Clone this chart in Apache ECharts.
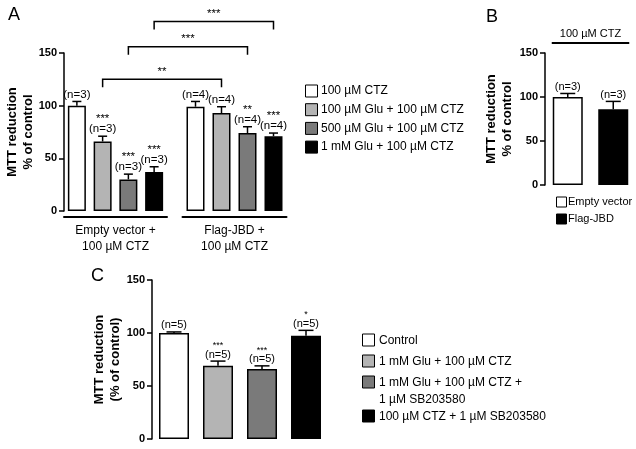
<!DOCTYPE html>
<html><head><meta charset="utf-8">
<script src="https://cdn.jsdelivr.net/npm/echarts@6/dist/echarts.min.js"></script>
<style>html,body{margin:0;padding:0;background:#fff}#c{width:636px;height:449px}</style>
</head><body><div id="c"></div>
<script>
const FONT = '"Liberation Sans", Arial, Helvetica, sans-serif';

// ---------- Panel A data ----------
const aConditions = ['100 \u00b5M CTZ', '100 \u00b5M Glu + 100 \u00b5M CTZ', '500 \u00b5M Glu + 100 \u00b5M CTZ', '1 mM Glu + 100 \u00b5M CTZ'];
const aGroups = ['Empty vector +\n100 \u00b5M CTZ', 'Flag-JBD +\n100 \u00b5M CTZ'];
const aEmptyMean = [100, 66, 30, 37];
const aEmptyErr = [4, 5, 5, 5];
const aEmptyN = ['(n=3)', '(n=3)', '(n=3)', '(n=3)'];
const aEmptySig = ['', '***', '***', '***'];
const aJbdMean = [99, 93, 74, 71];
const aJbdErr = [5, 6, 6, 3];
const aJbdN = ['(n=4)', '(n=4)', '(n=4)', '(n=4)'];
const aJbdSig = ['', '', '**', '***'];
const aBrackets = [
  { from: 1, to: 1, level: 125, sig: '**' },
  { from: 2, to: 2, level: 156, sig: '***' },
  { from: 3, to: 3, level: 180, sig: '***' }
];
const yTicks = [0, 50, 100, 150];

// ---------- Panel B data ----------
const bCategories = ['Empty vector', 'Flag-JBD'];
const bMean = [100, 86];
const bErr = [4, 9];
const bN = ['(n=3)', '(n=3)'];
const bTitle = '100 \u00b5M CTZ';

// ---------- Panel C data ----------
const cCategories = ['Control', '1 mM Glu + 100 \u00b5M CTZ', '1 mM Glu + 100 \u00b5M CTZ +\n1 \u00b5M SB203580', '100 \u00b5M CTZ + 1 \u00b5M SB203580'];
const cMean = [100, 69, 66, 97.5];
const cErr = [1, 4.5, 3, 5];
const cN = ['(n=5)', '(n=5)', '(n=5)', '(n=5)'];
const cSig = ['', '***', '***', '*'];

// ---------- styles ----------
const fillA = ['#ffffff', '#b4b4b4', '#7a7a7a', '#000000'];
const fillB = ['#ffffff', '#000000'];
const fillC = ['#ffffff', '#b4b4b4', '#7a7a7a', '#000000'];

const chart = echarts.init(document.getElementById('c'), null, { renderer: 'canvas' });

function yAxisDef(grid, show, name, gap) {
  return {
    type: 'value', gridIndex: grid, min: yTicks[0], max: yTicks[yTicks.length - 1], interval: 50,
    show: show,
    axisLine: { show: true, lineStyle: { color: '#000', width: 1.5 } },
    axisTick: { show: true, length: 5, lineStyle: { color: '#000', width: 1.5 } },
    axisLabel: { color: '#000', fontWeight: 'bold', fontSize: 11, fontFamily: FONT, margin: 7 },
    splitLine: { show: false },
    name: name, nameLocation: 'middle', nameRotate: 90, nameGap: gap, nameMoveOverlap: false,
    nameTextStyle: { color: '#000', fontWeight: 'bold', fontSize: 13, lineHeight: 16, fontFamily: FONT }
  };
}

function barSeries(grid, values, fills, width) {
  return {
    type: 'bar', xAxisIndex: grid, yAxisIndex: grid, barWidth: width, z: 2,
    data: values.map((v, i) => ({ value: v, itemStyle: { color: fills[i], borderColor: '#000', borderWidth: 1.5 } })),
    silent: true, animation: false
  };
}

function errSeries(grid, values, errs, nLabels, sigLabels, capW, nSize, sigSize, sigGap) {
  return {
    type: 'custom', xAxisIndex: grid, yAxisIndex: grid, z: 3, animation: false, silent: true,
    data: values.map((v, i) => [i, v, errs[i]]),
    renderItem: function (params, api) {
      const i = api.value(0), v = api.value(1), e = api.value(2);
      const base = api.coord([i, v]);
      const top = api.coord([i, v + e]);
      const idx = params.dataIndex;
      const ch = [
        { type: 'line', shape: { x1: base[0], y1: base[1], x2: top[0], y2: top[1] }, style: { stroke: '#000', lineWidth: 1.5 } },
        { type: 'line', shape: { x1: top[0] - capW / 2, y1: top[1], x2: top[0] + capW / 2, y2: top[1] }, style: { stroke: '#000', lineWidth: 1.5 } },
        { type: 'text', x: top[0], y: top[1] - 1, style: { text: nLabels[idx], fill: '#000', font: nSize + 'px ' + FONT, textAlign: 'center', textVerticalAlign: 'bottom' } }
      ];
      if (sigLabels && sigLabels[idx]) {
        ch.push({ type: 'text', x: top[0], y: top[1] - sigGap, style: { text: sigLabels[idx], fill: '#000', font: sigSize + 'px ' + FONT, textAlign: 'center', textVerticalAlign: 'bottom' } });
      }
      return { type: 'group', children: ch };
    }
  };
}

function catAxis(grid, n, name, showLine) {
  return {
    type: 'category', gridIndex: grid, data: Array.from({ length: n }, (_, i) => String(i)),
    axisLine: { show: showLine, onZero: false, lineStyle: { color: '#000', width: 2 } },
    offset: showLine ? 6 : 0,
    axisTick: { show: false }, axisLabel: { show: false },
    name: name, nameLocation: 'middle', nameGap: 6,
    nameTextStyle: { color: '#000', fontSize: 12, lineHeight: 16, fontFamily: FONT, verticalAlign: 'top' }
  };
}

const option = {
  animation: false,
  backgroundColor: '#fff',
  textStyle: { fontFamily: FONT },
  grid: [
    { left: 64, top: 53, width: 103, height: 158 },
    { left: 182.5, top: 53, width: 104, height: 158 },
    { left: 545, top: 53, width: 92, height: 132 },
    { left: 152, top: 280, width: 176, height: 159 }
  ],
  xAxis: [
    catAxis(0, aEmptyMean.length, aGroups[0], true),
    catAxis(1, aJbdMean.length, aGroups[1], true),
    catAxis(2, bMean.length, '', false),
    catAxis(3, cMean.length, '', false)
  ],
  yAxis: [
    yAxisDef(0, true, 'MTT reduction\n% of control', 28),
    yAxisDef(1, false, '', 0),
    yAxisDef(2, true, 'MTT reduction\n% of control', 30),
    yAxisDef(3, true, 'MTT reduction\n(% of control)', 29)
  ],
  series: [
    barSeries(0, aEmptyMean, fillA, 18),
    errSeries(0, aEmptyMean, aEmptyErr, aEmptyN, aEmptySig, 9, 11.5, 11.5, 11),
    barSeries(1, aJbdMean, fillA, 18),
    errSeries(1, aJbdMean, aJbdErr, aJbdN, aJbdSig, 9, 11.5, 11.5, 11),
    barSeries(2, bMean, fillB, 30),
    errSeries(2, bMean, bErr, bN, null, 15, 11, 11, 11),
    barSeries(3, cMean, fillC, 30),
    errSeries(3, cMean, cErr, cN, cSig, 15, 11, 9, 11)
  ]
};
chart.setOption(option);

// ---------- annotations (computed from the axes) ----------
const g = [];
function txt(x, y, s, size, opts) {
  g.push(Object.assign({ type: 'text', x: x, y: y, style: Object.assign({ text: s, fill: '#000', font: size + 'px ' + FONT, textAlign: 'left', textVerticalAlign: 'middle' }, (opts && opts.style) || {}) }, opts && opts.el || {}));
}
function ln(x1, y1, x2, y2, w) {
  g.push({ type: 'polyline', shape: { points: [[x1, y1], [x2, y2]] }, style: { stroke: '#000', lineWidth: w || 1.5, fill: null } });
}
function box(x, yc, w, h, color) {
  g.push({ type: 'rect', shape: { x: x, y: yc - h / 2, width: w, height: h }, style: { fill: color, stroke: '#000', lineWidth: 1 } });
}

// panel letters
txt(8, 15, 'A', 18);
txt(486, 17, 'B', 18);
txt(91, 276, 'C', 18);

// brackets in panel A
aBrackets.forEach(b => {
  const p1 = chart.convertToPixel({ xAxisIndex: 0, yAxisIndex: 0 }, [b.from, b.level]);
  const p2 = chart.convertToPixel({ xAxisIndex: 1, yAxisIndex: 1 }, [b.to, b.level]);
  g.push({ type: 'polyline', shape: { points: [[p1[0], p1[1] + 8], [p1[0], p1[1]], [p2[0], p2[1]], [p2[0], p2[1] + 8]] }, style: { stroke: '#000', lineWidth: 1.5, fill: null } });
  txt((p1[0] + p2[0]) / 2, p1[1] - 2, b.sig, 11.5, { style: { textAlign: 'center', textVerticalAlign: 'bottom' } });
});

// legend A
aConditions.forEach((s, i) => {
  const y = 91 + i * 18.7;
  box(305.5, y, 12, 12, fillA[i]);
  txt(321, y, s, 12);
});

// panel B top line + title
{
  const l = chart.convertToPixel({ xAxisIndex: 2, yAxisIndex: 2 }, [0, 0]);
  const r = chart.convertToPixel({ xAxisIndex: 2, yAxisIndex: 2 }, [bMean.length - 1, 0]);
  ln(l[0] - 16, 43, r[0] + 16, 43, 2);
  txt((l[0] + r[0]) / 2, 34, bTitle, 11, { style: { textAlign: 'center' } });
}
// legend B
bCategories.forEach((s, i) => {
  const y = 202 + i * 17;
  box(556.5, y, 10, 10, fillB[i]);
  txt(568, y, s, 11);
});

// legend C
{
  let y = 340;
  cCategories.forEach((s, i) => {
    box(362.5, y, 12, 12, fillC[i]);
    const lines = s.split('\n').length;
    g.push({ type: 'text', x: 379, y: y - 8, style: { text: s, fill: '#000', font: '12px ' + FONT, textAlign: 'left', textVerticalAlign: 'top', lineHeight: 17 } });
    y += (lines > 1 ? 34 : 21);
  });
}

chart.setOption({ graphic: g });
</script>
</body></html>
